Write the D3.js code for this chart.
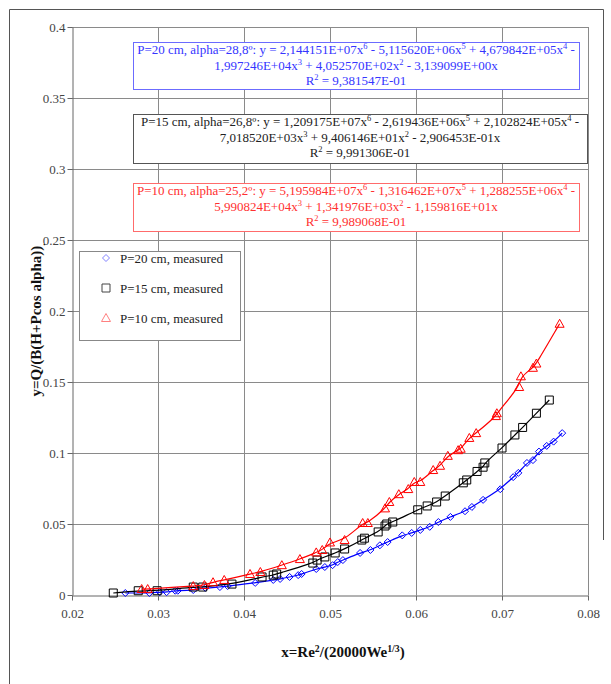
<!DOCTYPE html>
<html>
<head>
<meta charset="utf-8">
<script src="https://cdn.jsdelivr.net/npm/d3@7"></script>
<style>
  body { margin: 0; background: #fff; }
  text { font-family: "Liberation Serif", "Times New Roman", serif; }
</style>
</head>
<body>
<div id="chart"></div>
<script>
"use strict"

// measured points
var x20 = [0.0262, 0.0290, 0.0302, 0.0310, 0.0320, 0.0323, 0.0341, 0.0355, 0.0372, 0.0381, 0.0413, 0.0434, 0.0442, 0.0453, 0.0463, 0.0467, 0.0484, 0.0494, 0.0503, 0.0509, 0.0515, 0.0535, 0.0547, 0.0558, 0.0567, 0.0584, 0.0595, 0.0605, 0.0616, 0.0626, 0.0640, 0.0657, 0.0665, 0.0678, 0.0698, 0.0713, 0.0719, 0.0729, 0.0736, 0.0743, 0.0752, 0.0760, 0.0770];
var y20 = [0.0014, 0.0014, 0.0020, 0.0020, 0.0030, 0.0030, 0.0035, 0.0050, 0.0056, 0.0063, 0.0085, 0.0106, 0.0113, 0.0127, 0.0140, 0.0148, 0.0183, 0.0197, 0.0210, 0.0232, 0.0246, 0.0296, 0.0317, 0.0350, 0.0373, 0.0420, 0.0437, 0.0458, 0.0480, 0.0514, 0.0550, 0.0590, 0.0620, 0.0670, 0.0745, 0.0830, 0.0860, 0.0930, 0.0950, 0.1010, 0.1050, 0.1080, 0.1140];

var x15 = [0.0248, 0.0277, 0.0299, 0.0341, 0.0352, 0.0386, 0.0421, 0.0434, 0.0438, 0.0480, 0.0485, 0.0494, 0.0506, 0.0517, 0.0537, 0.0540, 0.0556, 0.0564, 0.0566, 0.0573, 0.0602, 0.0613, 0.0624, 0.0634, 0.0655, 0.0659, 0.0671, 0.0678, 0.0680, 0.0700, 0.0715, 0.0724, 0.0740, 0.0755];
var y15 = [0.0014, 0.0030, 0.0030, 0.0056, 0.0056, 0.0077, 0.0127, 0.0140, 0.0148, 0.0225, 0.0246, 0.0268, 0.0296, 0.0324, 0.0387, 0.0400, 0.0444, 0.0486, 0.0500, 0.0514, 0.0600, 0.0627, 0.0655, 0.0697, 0.0790, 0.0810, 0.0870, 0.0900, 0.0930, 0.1035, 0.1127, 0.1180, 0.1280, 0.1373];

var x10 = [0.0281, 0.0288, 0.0341, 0.0354, 0.0364, 0.0377, 0.0407, 0.0419, 0.0444, 0.0465, 0.0484, 0.0491, 0.0500, 0.0517, 0.0538, 0.0544, 0.0564, 0.0569, 0.0580, 0.0591, 0.0598, 0.0605, 0.0620, 0.0628, 0.0637, 0.0649, 0.0652, 0.0662, 0.0670, 0.0693, 0.0694, 0.0720, 0.0722, 0.0736, 0.0740, 0.0767];
var y10 = [0.0042, 0.0042, 0.0063, 0.0070, 0.0090, 0.0106, 0.0148, 0.0162, 0.0210, 0.0253, 0.0300, 0.0317, 0.0370, 0.0387, 0.0507, 0.0507, 0.0610, 0.0655, 0.0710, 0.0746, 0.0796, 0.0796, 0.0880, 0.0910, 0.0980, 0.1020, 0.1030, 0.1106, 0.1140, 0.1260, 0.1280, 0.1465, 0.1540, 0.1600, 0.1630, 0.1910];

var xTicks = [0.02, 0.03, 0.04, 0.05, 0.06, 0.07, 0.08];
var yTicks = [0, 0.05, 0.1, 0.15, 0.2, 0.25, 0.3, 0.35, 0.4];

var legendLabels = ["P=20 cm, measured", "P=15 cm, measured", "P=10 cm, measured"];

var eq20 = ["P=20 cm, alpha=28,8º: y = 2,144151E+07x^{6} - 5,115620E+06x^{5} + 4,679842E+05x^{4} -",
            "1,997246E+04x^{3} + 4,052570E+02x^{2} - 3,139099E+00x",
            "R^{2} = 9,381547E-01"];
var eq15 = ["P=15 cm, alpha=26,8º: y = 1,209175E+07x^{6} - 2,619436E+06x^{5} + 2,102824E+05x^{4} -",
            "7,018520E+03x^{3} + 9,406146E+01x^{2} - 2,906453E-01x",
            "R^{2} = 9,991306E-01"];
var eq10 = ["P=10 cm, alpha=25,2º: y = 5,195984E+07x^{6} - 1,316462E+07x^{5} + 1,288255E+06x^{4} -",
            "5,990824E+04x^{3} + 1,341976E+03x^{2} - 1,159816E+01x",
            "R^{2} = 9,989068E-01"];

var width = 611, height = 684;
var plotLeft = 72, plotRight = 588, plotTop = 27, plotBottom = 595;

var svg = d3.select("#chart").append("svg")
    .attr("width", width).attr("height", height);

svg.append("rect").attr("width", width).attr("height", height).attr("fill", "#fff");

// outer frame
svg.append("path")
    .attr("d", "M9.5,684 V9.5 H603.5 V540")
    .attr("fill", "none").attr("stroke", "#555").attr("stroke-width", 1);

var x = d3.scaleLinear().domain([0.02, 0.08]).range([plotLeft, plotRight]);
var y = d3.scaleLinear().domain([0, 0.4]).range([plotBottom, plotTop]);

// grid
var grid = svg.append("g").attr("stroke", "#8a8a8a").attr("stroke-width", 1);
grid.selectAll(".gx").data(xTicks.slice(1)).enter().append("line")
    .attr("x1", function(d){ return Math.round(x(d)) + 0.5; })
    .attr("x2", function(d){ return Math.round(x(d)) + 0.5; })
    .attr("y1", plotTop).attr("y2", plotBottom);
grid.selectAll(".gy").data(yTicks.slice(1)).enter().append("line")
    .attr("y1", function(d){ return Math.round(y(d)) + 0.5; })
    .attr("y2", function(d){ return Math.round(y(d)) + 0.5; })
    .attr("x1", plotLeft).attr("x2", plotRight);

// axes
var xAxis = svg.append("g")
    .attr("transform", "translate(0," + (Math.round(plotBottom) + 0.5) + ")")
    .call(d3.axisBottom(x).tickValues(xTicks).tickSize(5).tickSizeOuter(0)
        .tickFormat(function(d){ return d3.format(".2f")(d); }));
var yAxis = svg.append("g")
    .attr("transform", "translate(" + (plotLeft + 0.5) + ",0)")
    .call(d3.axisLeft(y).tickValues(yTicks).tickSize(5).tickSizeOuter(0)
        .tickFormat(function(d){ return d === 0 ? "0" : String(d); }));

[xAxis, yAxis].forEach(function(a){
    a.select(".domain").attr("stroke", "#666");
    a.selectAll(".tick line").attr("stroke", "#666");
    a.selectAll(".tick text")
        .attr("fill", "#444")
        .style("font-family", '"Liberation Serif", serif')
        .style("font-size", "13px");
});
xAxis.selectAll(".tick text").attr("dy", "1.1em");
yAxis.selectAll(".tick text").attr("x", -7);

// series
var series = [
    {xs: x20, ys: y20, color: "#0000ff", shape: "diamond"},
    {xs: x15, ys: y15, color: "#000000", shape: "square"},
    {xs: x10, ys: y10, color: "#ff0000", shape: "triangle"}
];

function markerPath(shape, cx, cy){
    if (shape === "diamond") {
        return "M" + cx + "," + (cy - 3.5) + " L" + (cx + 3.5) + "," + cy + " L" + cx + "," + (cy + 3.5) + " L" + (cx - 3.5) + "," + cy + " Z";
    }
    if (shape === "square") {
        return "M" + (cx - 4) + "," + (cy - 4) + " h8 v8 h-8 Z";
    }
    return "M" + cx + "," + (cy - 4.5) + " L" + (cx + 4.5) + "," + (cy + 3.5) + " L" + (cx - 4.5) + "," + (cy + 3.5) + " Z";
}

var line = d3.line().curve(d3.curveBasis)
    .x(function(d){ return x(d[0]); })
    .y(function(d){ return y(d[1]); });

series.forEach(function(s){
    var pts = s.xs.map(function(v, i){ return [v, s.ys[i]]; });
    svg.append("path").datum(pts)
        .attr("d", line)
        .attr("fill", "none").attr("stroke", s.color).attr("stroke-width", 1.2);
    svg.append("g").selectAll("path").data(pts).enter().append("path")
        .attr("d", function(d){ return markerPath(s.shape, x(d[0]), y(d[1])); })
        .attr("fill", "none").attr("stroke", s.color).attr("stroke-width", 1);
});

// text with ^{..} superscripts
function richText(sel, str, size){
    var parts = str.split(/(\^\{[^}]*\})/);
    var pending = 0;
    parts.forEach(function(p){
        if (!p) return;
        var m = p.match(/^\^\{([^}]*)\}$/);
        if (m) {
            sel.append("tspan").attr("dy", -size * 0.35).style("font-size", (size * 0.65) + "px").text(m[1]);
            pending = size * 0.35;
        } else {
            var t = sel.append("tspan").style("font-size", size + "px").text(p);
            if (pending) { t.attr("dy", pending); pending = 0; }
        }
    });
}

function eqBox(lines, bx, by, bw, bh, stroke, fill){
    svg.append("rect")
        .attr("x", bx + 0.5).attr("y", by + 0.5).attr("width", bw).attr("height", bh)
        .attr("fill", "#fff").attr("stroke", stroke).attr("stroke-width", 1);
    lines.forEach(function(l, i){
        var t = svg.append("text")
            .attr("x", bx + bw / 2).attr("y", by + 12 + i * 15.5)
            .attr("text-anchor", "middle").attr("fill", fill);
        richText(t, l, 13);
    });
}

eqBox(eq20, 133, 42, 446, 47, "#6b6bff", "#3535ff");
eqBox(eq15, 133, 114, 454, 49, "#555", "#222");
eqBox(eq10, 133, 183, 446, 48, "#ff6b6b", "#ff3030");

// legend
svg.append("rect")
    .attr("x", 79.5).attr("y", 251.5).attr("width", 161).attr("height", 89)
    .attr("fill", "#fff").attr("stroke", "#888");
var legendColors = ["#8080ff", "#444", "#ff8080"];
legendLabels.forEach(function(lab, i){
    var ly = 258 + i * 30;
    svg.append("path")
        .attr("d", markerPath(series[i].shape, 106, ly))
        .attr("fill", "none").attr("stroke", legendColors[i]).attr("stroke-width", 1);
    svg.append("text").attr("x", 120).attr("y", ly + 4.5)
        .attr("fill", "#222").style("font-size", "13px").text(lab);
});

// axis titles
var xt = svg.append("text").attr("x", 343).attr("y", 657)
    .attr("text-anchor", "middle").attr("fill", "#111").attr("font-weight", "bold");
richText(xt, "x=Re^{2}/(20000We^{1/3})", 15);

var yt = svg.append("text")
    .attr("transform", "translate(41,320) rotate(-90)")
    .attr("text-anchor", "middle").attr("fill", "#111").attr("font-weight", "bold");
yt.append("tspan").style("font-size", "15px").text("y=Q/(B(H+Pcos alpha))");
yt.append("tspan").attr("dy", 4).style("font-size", "9px").text(".");
</script>
</body>
</html>
